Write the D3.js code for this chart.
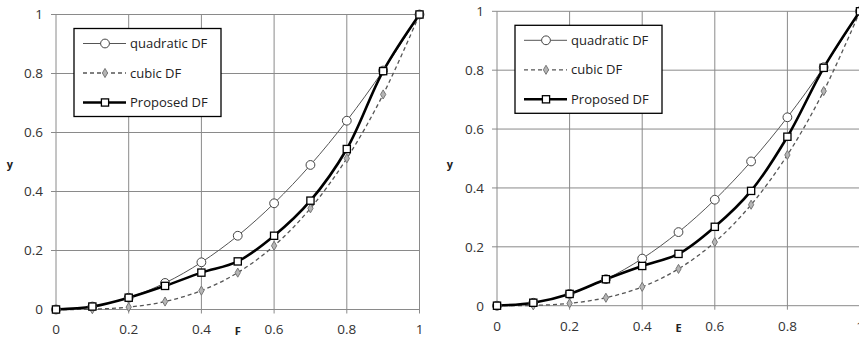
<!DOCTYPE html>
<html>
<head>
<meta charset="utf-8">
<script src="https://cdn.jsdelivr.net/npm/d3@7"></script>
<style>
  body { margin: 0; background: #fff; }
  text { font-family: "Open Sans", "DejaVu Sans", sans-serif; }
</style>
</head>
<body>
<div id="chart"></div>
<script>
let width = 859
let height = 338

// data
let xVals = [0, 0.1, 0.2, 0.3, 0.4, 0.5, 0.6, 0.7, 0.8, 0.9, 1]
let quadratic = [0, 0.01, 0.04, 0.09, 0.16, 0.25, 0.36, 0.49, 0.64, 0.81, 1]
let cubic = [0, 0.001, 0.008, 0.027, 0.064, 0.125, 0.216, 0.343, 0.512, 0.729, 1]
let proposedF = [0, 0.01, 0.04, 0.08, 0.125, 0.163, 0.25, 0.369, 0.544, 0.808, 1]
let proposedE = [0, 0.01, 0.04, 0.09, 0.135, 0.176, 0.268, 0.39, 0.574, 0.808, 1]
let xTicks = [0, 0.2, 0.4, 0.6, 0.8, 1]
let yTicks = [0, 0.2, 0.4, 0.6, 0.8, 1]
let seriesNames = ["quadratic DF", "cubic DF", "Proposed DF"]

let svg = d3.select("#chart").append("svg")
  .attr("width", width)
  .attr("height", height)

let styles = [
  { stroke: "#555", width: 1, dash: null, marker: "circle" },
  { stroke: "#555", width: 1.3, dash: "4,3", marker: "diamond" },
  { stroke: "#000", width: 2.6, dash: null, marker: "square" }
]

function drawMarker(g, type, x, y) {
  if (type == "circle") {
    g.append("circle").attr("cx", x).attr("cy", y).attr("r", 4.4)
      .attr("fill", "#fff").attr("stroke", "#444").attr("stroke-width", 1)
  } else if (type == "diamond") {
    g.append("path")
      .attr("d", d3.symbol(d3.symbolDiamond, 24)())
      .attr("transform", "translate(" + x + "," + y + ")")
      .attr("fill", "#b5b5b5").attr("stroke", "#777").attr("stroke-width", 1)
  } else {
    g.append("rect").attr("x", x - 3.6).attr("y", y - 3.6)
      .attr("width", 7.2).attr("height", 7.2)
      .attr("fill", "#fff").attr("stroke", "#000").attr("stroke-width", 1.3)
  }
}

function drawPanel(p) {
  let x = d3.scaleLinear([0, 1], [p.x0, p.x1])
  let y = d3.scaleLinear([0, 1], [p.y0, p.y1])
  let g = svg.append("g")

  // gridlines
  g.selectAll(".vgrid").data(xTicks).enter().append("line")
    .attr("x1", d => x(d)).attr("x2", d => x(d))
    .attr("y1", y(1)).attr("y2", y(0) + 4)
    .attr("stroke", "#8a8a8a").attr("stroke-width", 1)
  g.selectAll(".hgrid").data(yTicks).enter().append("line")
    .attr("x1", x(0) - 5).attr("x2", x(1))
    .attr("y1", d => y(d)).attr("y2", d => y(d))
    .attr("stroke", "#8a8a8a").attr("stroke-width", 1)

  // tick labels
  g.selectAll(".ylab").data(yTicks).enter().append("text")
    .attr("x", x(0) - 13).attr("y", d => y(d)).attr("dy", "0.36em")
    .attr("text-anchor", "end").attr("font-size", 13.5).attr("fill", "#333")
    .text(d => d3.format("~g")(d))
  g.selectAll(".xlab").data(xTicks).enter().append("text")
    .attr("x", d => x(d)).attr("y", p.tickY)
    .attr("text-anchor", "middle").attr("font-size", 13.5).attr("fill", "#333")
    .text(d => d3.format("~g")(d))

  // axis titles
  g.append("text").attr("x", p.yLabX).attr("y", 168)
    .attr("text-anchor", "middle").attr("font-size", 11).attr("font-weight", "bold")
    .attr("fill", "#222").text("y")
  g.append("text").attr("x", x(0.5)).attr("y", p.tickY + 1)
    .attr("text-anchor", "middle").attr("font-size", 11).attr("font-weight", "bold")
    .attr("fill", "#222").text(p.xName)

  // series lines (smoothed, like the original)
  let series = [quadratic, cubic, p.proposed]
  series.forEach((vals, i) => {
    let s = styles[i]
    let line = d3.line().x((d, j) => x(xVals[j])).y(d => y(d)).curve(d3.curveCatmullRom)
    g.append("path").attr("d", line(vals))
      .attr("fill", "none").attr("stroke", s.stroke)
      .attr("stroke-width", s.width)
      .attr("stroke-dasharray", s.dash)
  })
  series.forEach((vals, i) => {
    vals.forEach((v, j) => drawMarker(g, styles[i].marker, x(xVals[j]), y(v)))
  })

  // legend
  let lx = x(0) + 18
  let ly = y(1) + 14
  g.append("rect").attr("x", lx).attr("y", ly).attr("width", 147).attr("height", 88)
    .attr("fill", "#fff").attr("stroke", "#000").attr("stroke-width", 1.3)
  seriesNames.forEach((name, i) => {
    let s = styles[i]
    let ry = ly + 15 + i * 29.5
    g.append("line").attr("x1", lx + 9).attr("x2", lx + 52)
      .attr("y1", ry).attr("y2", ry)
      .attr("stroke", s.stroke).attr("stroke-width", s.width)
      .attr("stroke-dasharray", s.dash)
    drawMarker(g, s.marker, lx + 31, ry)
    g.append("text").attr("x", lx + 56).attr("y", ry).attr("dy", "0.35em")
      .attr("font-size", 13).attr("fill", "#222").text(name)
  })
}

drawPanel({ x0: 56, x1: 419.5, y0: 309.5, y1: 14.5, tickY: 334, yLabX: 10, xName: "F", proposed: proposedF })
drawPanel({ x0: 497, x1: 860, y0: 305.7, y1: 11.3, tickY: 331, yLabX: 450, xName: "E", proposed: proposedE })
</script>
</body>
</html>
